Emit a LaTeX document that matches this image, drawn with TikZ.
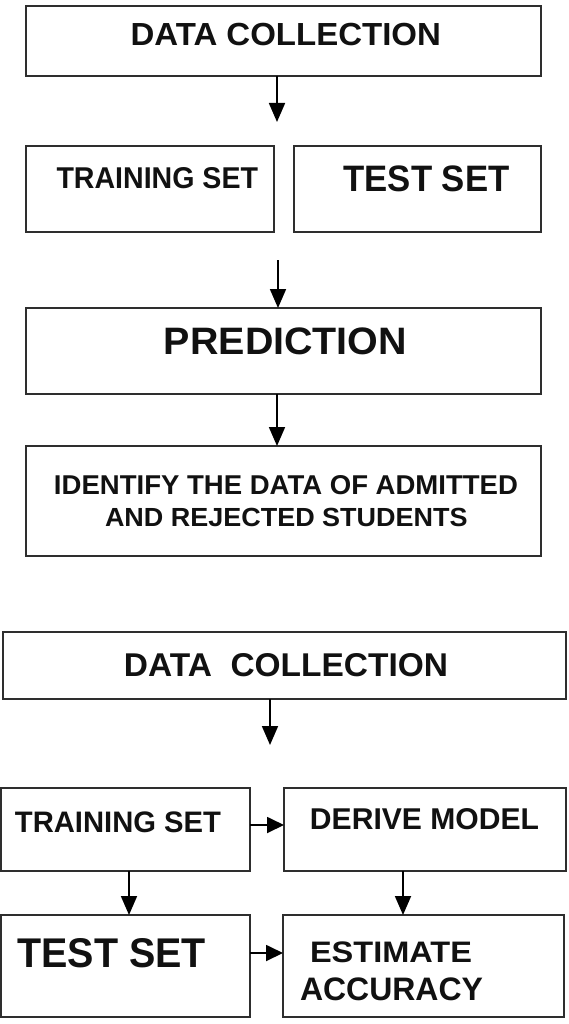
\documentclass[tikz,border=0pt]{standalone}
\usepackage{fontspec}
\setmainfont{Liberation Sans}
\usepackage{graphicx}
\usetikzlibrary{arrows.meta}
\definecolor{boxline}{HTML}{2E2E2E}
\definecolor{ink}{HTML}{111111}
\newcommand{\fittext}[3]{\resizebox{#1pt}{#2pt}{\bfseries #3}}
\begin{document}
\begin{tikzpicture}[x=1pt,y=-1pt,
  box/.style={draw=boxline,line width=2pt,fill=white,inner sep=0pt,outer sep=0pt},
  lbl/.style={inner sep=0pt,outer sep=0pt,text=ink},
  arr/.style={draw=black,line width=1.8pt,-{Triangle[width=16pt,length=19pt]}},
  harr/.style={draw=black,line width=1.8pt,-{Triangle[width=16pt,length=17pt]}}]
\useasboundingbox[fill=white] (0,0) rectangle (569,1024);

% ---------- upper diagram ----------
\node[box,minimum width=515pt,minimum height=70pt] (b1) at (283.5,41) {};
\node[box,minimum width=248pt,minimum height=86pt] (b2) at (150,189) {};
\node[box,minimum width=247pt,minimum height=86pt] (b3) at (417.5,189) {};
\node[box,minimum width=515pt,minimum height=86pt] (b4) at (283.5,351) {};
\node[box,minimum width=515pt,minimum height=110pt] (b5) at (283.5,501) {};

\node[lbl] (t1) at (285.8,34.5) {\fittext{310.4}{22.3}{DATA COLLECTION}};
\node[lbl] (t2) at (157.3,177.7) {\fittext{201.5}{21}{TRAINING SET}};
\node[lbl] (t3) at (426.5,179.3) {\fittext{166}{25.7}{TEST SET}};
\node[lbl] (t4) at (285.5,341.7) {\fittext{243}{26.7}{PREDICTION}};
\node[lbl] (t5a) at (286,485.3) {\fittext{464}{19}{IDENTIFY THE DATA OF ADMITTED}};
\node[lbl] (t5b) at (286.3,517.3) {\fittext{362.5}{18.3}{AND REJECTED STUDENTS}};

\coordinate (a1e) at (277,122);
\coordinate (a2s) at (278,260);
\draw[arr] (b1.south -| a1e) -- (a1e);
\draw[arr] (a2s) -- (a2s |- b4.north);
\coordinate (a3x) at (277,0);
\draw[arr] (b4.south -| a3x) -- (b5.north -| a3x);

% ---------- lower diagram ----------
\node[box,minimum width=563pt,minimum height=67pt] (b6) at (284.5,665.5) {};
\node[box,minimum width=249pt,minimum height=83pt] (b7) at (125.5,829.5) {};
\node[box,minimum width=282pt,minimum height=83pt] (b8) at (425,829.5) {};
\node[box,minimum width=249pt,minimum height=102pt] (b9) at (125.5,966) {};
\node[box,minimum width=281pt,minimum height=102pt] (b10) at (423.5,966) {};

\node[lbl] (t6) at (286,665) {\fittext{324}{23}{DATA~~COLLECTION}};
\node[lbl] (t7) at (118,822) {\fittext{206}{20.7}{TRAINING SET}};
\node[lbl] (t8) at (424.5,818.7) {\fittext{229}{21}{DERIVE MODEL}};
\node[lbl] (t9) at (111.7,952.7) {\fittext{188.5}{29}{TEST SET}};
\node[lbl] (t10) at (391,952) {\fittext{162}{20.7}{ESTIMATE}};
\node[lbl] (t11) at (391.5,989.7) {\fittext{183}{22.7}{ACCURACY}};

\coordinate (a4e) at (270,745);
\draw[arr] (b6.south -| a4e) -- (a4e);
\coordinate (a5y) at (0,825);
\draw[harr] (b7.east |- a5y) -- (b8.west |- a5y);
\coordinate (a6x) at (129,0);
\draw[arr] (b7.south -| a6x) -- (b9.north -| a6x);
\coordinate (a7x) at (403,0);
\draw[arr] (b8.south -| a7x) -- (b10.north -| a7x);
\coordinate (a8y) at (0,953);
\draw[harr] (b9.east |- a8y) -- (b10.west |- a8y);
\end{tikzpicture}
\end{document}
